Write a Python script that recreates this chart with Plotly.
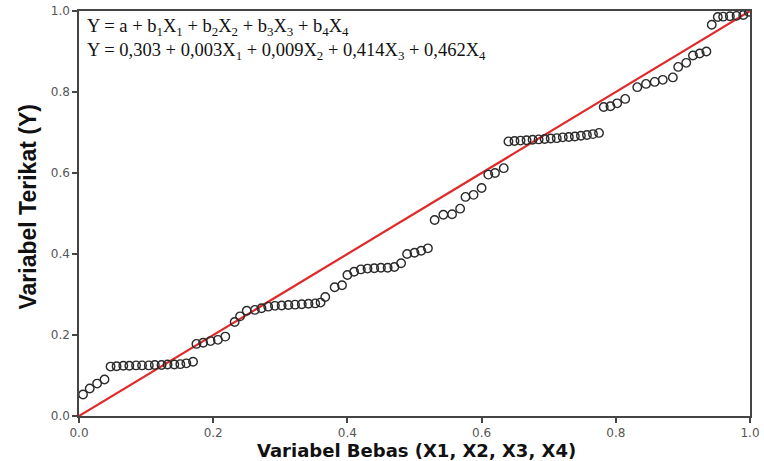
import plotly.graph_objects as go

# Observed cumulative probability (x) and expected cumulative probability (y)
x_vals = [0.006, 0.016, 0.027, 0.038,
          0.047, 0.056, 0.066, 0.075, 0.085, 0.094, 0.104, 0.113, 0.123, 0.132, 0.142, 0.151, 0.160, 0.170,
          0.175, 0.185, 0.196, 0.207, 0.218,
          0.232, 0.240, 0.250,
          0.262, 0.272, 0.282, 0.292, 0.302, 0.312, 0.322, 0.332, 0.342, 0.352, 0.360,
          0.367, 0.381, 0.392,
          0.400, 0.410, 0.420, 0.430, 0.440, 0.450, 0.460, 0.470, 0.480,
          0.489, 0.500, 0.510, 0.520,
          0.530, 0.543, 0.556, 0.568,
          0.576, 0.588, 0.600,
          0.610, 0.620, 0.633,
          0.640, 0.649, 0.658, 0.667, 0.676, 0.685, 0.694, 0.703, 0.712, 0.721, 0.730, 0.739, 0.748, 0.757, 0.766, 0.775,
          0.782, 0.792, 0.802, 0.814,
          0.832, 0.845, 0.858, 0.870, 0.885,
          0.893, 0.905,
          0.915, 0.925, 0.935,
          0.943,
          0.952, 0.960, 0.970, 0.980, 0.990, 0.998]
y_vals = [0.053, 0.068, 0.080, 0.090,
          0.122, 0.123, 0.124, 0.124, 0.125, 0.125, 0.125, 0.126, 0.126, 0.127, 0.127, 0.128, 0.130, 0.134,
          0.178, 0.181, 0.185, 0.188, 0.196,
          0.232, 0.246, 0.260,
          0.262, 0.266, 0.270, 0.272, 0.273, 0.274, 0.275, 0.276, 0.277, 0.278, 0.280,
          0.294, 0.318, 0.323,
          0.348, 0.356, 0.362, 0.364, 0.365, 0.366, 0.366, 0.368, 0.377,
          0.400, 0.403, 0.408, 0.414,
          0.484, 0.497, 0.498, 0.512,
          0.541, 0.546, 0.563,
          0.596, 0.600, 0.612,
          0.678, 0.679, 0.680, 0.681, 0.682, 0.683, 0.684, 0.685, 0.686, 0.688, 0.689, 0.690, 0.692, 0.694, 0.696, 0.699,
          0.763, 0.765, 0.772, 0.783,
          0.812, 0.820, 0.825, 0.830, 0.836,
          0.862, 0.872,
          0.890, 0.895, 0.900,
          0.966,
          0.985, 0.986, 0.987, 0.988, 0.990, 0.998]

line_x = [0.0, 1.0]
line_y = [0.0, 1.0]

tick_vals = [0.0, 0.2, 0.4, 0.6, 0.8, 1.0]
tick_text = ["0.0", "0.2", "0.4", "0.6", "0.8", "1.0"]

x_title = "Variabel Bebas (X1, X2, X3, X4)"
y_title = "Variabel Terikat (Y)"
eq_text = ("Y = a + b<sub>1</sub>X<sub>1</sub> + b<sub>2</sub>X<sub>2</sub> + "
           "b<sub>3</sub>X<sub>3</sub> + b<sub>4</sub>X<sub>4</sub><br>"
           "Y = 0,303 + 0,003X<sub>1</sub> + 0,009X<sub>2</sub> + "
           "0,414X<sub>3</sub> + 0,462X<sub>4</sub>")

fig = go.Figure()
fig.add_trace(go.Scatter(x=line_x, y=line_y, mode="lines",
                         line=dict(color="#e02a2a", width=2.2), hoverinfo="skip"))
fig.add_trace(go.Scatter(x=x_vals, y=y_vals, mode="markers",
                         marker=dict(symbol="circle-open", size=8.5, color="#2a2a2a",
                                     line=dict(width=1.4, color="#2a2a2a"))))

axis_common = dict(range=[0, 1], tickvals=tick_vals, ticktext=tick_text, automargin=False,
                   showgrid=False, zeroline=False, showline=True, linecolor="#444444",
                   linewidth=1.5, mirror=True, ticks="outside", ticklen=5, tickwidth=1.5,
                   tickcolor="#444444", tickfont=dict(family="DejaVu Sans", size=12, color="#555555"))

fig.update_xaxes(**axis_common)
fig.update_yaxes(**axis_common)

# x-axis title
fig.add_annotation(x=0.5, y=0.0, xref="paper", yref="paper", xanchor="center", yanchor="middle",
                   xshift=2, yshift=-34, borderpad=0, text="<b>" + x_title + "</b>", showarrow=False,
                   font=dict(family="DejaVu Sans", size=18, color="#111111"))
# y-axis title
fig.add_annotation(x=0.0, y=0.5, xref="paper", yref="paper", xanchor="center", yanchor="middle",
                   xshift=-52, yshift=6, textangle=-90, text="<b>" + y_title + "</b>", showarrow=False,
                   font=dict(family="Liberation Sans, Arial", size=23, color="#111111"))
# equation box text
fig.add_annotation(x=0.0, y=1.0, xref="paper", yref="paper", xanchor="left", yanchor="top",
                   xshift=6, yshift=-3, text=eq_text, showarrow=False, align="left",
                   font=dict(family="Liberation Serif, Times New Roman", size=18.5, color="#111111"))

fig.update_layout(width=764, height=461, margin=dict(l=79, r=14, t=11, b=45, autoexpand=False),
                  plot_bgcolor="white", paper_bgcolor="white", showlegend=False)

fig.write_html("out.html", config={"displayModeBar": False},
               post_script="document.body.style.margin='0';document.body.style.overflow='hidden';")
